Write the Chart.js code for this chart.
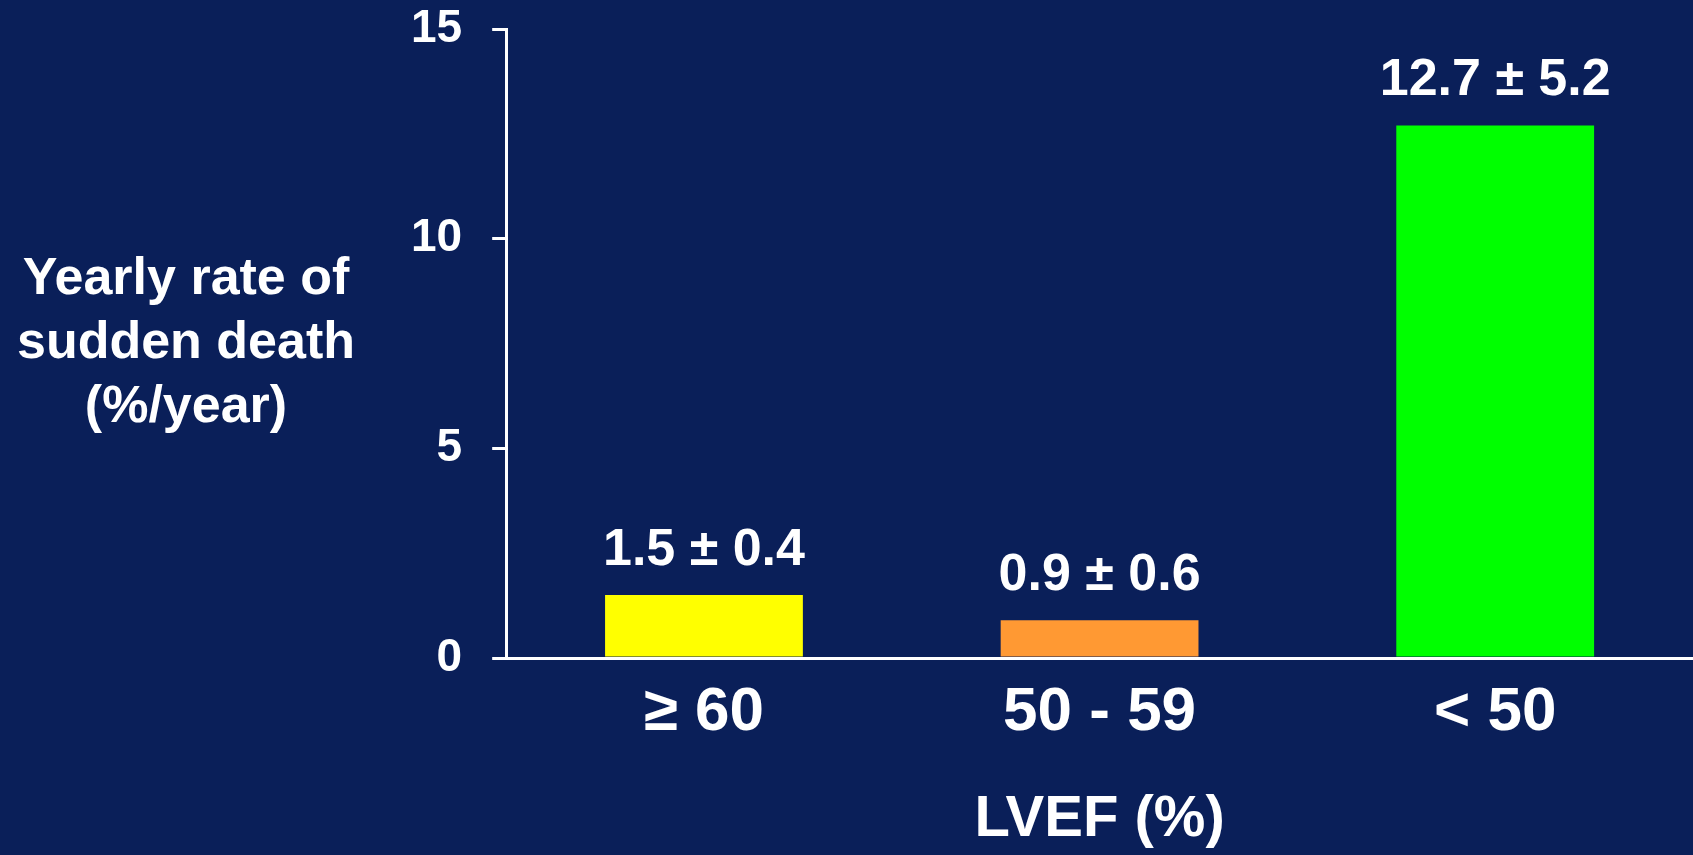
<!DOCTYPE html>
<html>
<head>
<meta charset="utf-8">
<script src="https://cdn.jsdelivr.net/npm/chart.js@4/dist/chart.umd.min.js"></script>
<style>
  html, body { margin: 0; padding: 0; background: #0A1F59; overflow: hidden; }
  #wrap { width: 1693px; height: 855px; }
</style>
</head>
<body>
<div id="wrap"><canvas id="chart" width="1693" height="855"></canvas></div>
<script>
// LVEF groups and yearly sudden-death rates (mean ± SD)
const categories = ['≥ 60', '50 - 59', '< 50'];
const rates = [1.5, 0.9, 12.7];
const spread = [0.4, 0.6, 5.2];
const barColors = ['#FFFF00', '#FF9933', '#00FF00'];
const yTicks = [0, 5, 10, 15];
const yTitleLines = ['Yearly rate of', 'sudden death', '(%/year)'];
const xTitle = 'LVEF (%)';

const FONT = '"Liberation Sans", Arial, Helvetica, sans-serif';

// value ± spread text over each bar
const barLabels = {
  id: 'barLabels',
  afterDatasetsDraw(chart) {
    const ctx = chart.ctx;
    const meta = chart.getDatasetMeta(0);
    ctx.save();
    ctx.fillStyle = '#FFFFFF';
    ctx.font = 'bold 52px ' + FONT;
    ctx.textAlign = 'center';
    ctx.textBaseline = 'alphabetic';
    meta.data.forEach((bar, i) => {
      ctx.fillText(rates[i] + ' ± ' + spread[i], bar.x, bar.y - 30);
    });
    ctx.restore();
  }
};

// horizontal multi-line title to the left of the value axis
const sideTitle = {
  id: 'sideTitle',
  afterDraw(chart) {
    const ctx = chart.ctx;
    const area = chart.chartArea;
    const mid = (area.top + area.bottom) / 2;
    const step = 64;
    ctx.save();
    ctx.fillStyle = '#FFFFFF';
    ctx.font = 'bold 52px ' + FONT;
    ctx.textAlign = 'center';
    ctx.textBaseline = 'middle';
    yTitleLines.forEach((line, i) => {
      ctx.fillText(line, 186, mid + (i - 1) * step);
    });
    ctx.restore();
  }
};

new Chart(document.getElementById('chart'), {
  type: 'bar',
  data: {
    labels: categories,
    datasets: [{
      data: rates,
      backgroundColor: barColors,
      borderWidth: 0,
      barPercentage: 0.5,
      categoryPercentage: 1.0
    }]
  },
  options: {
    responsive: false,
    devicePixelRatio: 1,
    animation: false,
    layout: { padding: { left: 381, top: 29, right: 0, bottom: 0 } },
    plugins: {
      legend: { display: false },
      tooltip: { enabled: false }
    },
    scales: {
      x: {
        offset: true,
        grid: { display: false, drawTicks: false },
        border: { display: true, color: '#FFFFFF', width: 3 },
        ticks: {
          color: '#FFFFFF',
          padding: 18,
          font: { family: FONT, size: 62, weight: 'bold' }
        },
        title: {
          display: true,
          text: xTitle,
          color: '#FFFFFF',
          font: { family: FONT, size: 58, weight: 'bold' },
          padding: { top: 17, bottom: 0 }
        }
      },
      y: {
        min: 0,
        max: 15,
        afterBuildTicks(scale) {
          scale.ticks = yTicks.map(v => ({ value: v }));
        },
        afterFit(scale) {
          // the top label may sit above the plot area; the layout padding handles it
          scale.paddingTop = 0;
        },
        grid: {
          drawOnChartArea: false,
          drawTicks: true,
          tickLength: 14,
          color: '#FFFFFF',
          lineWidth: 3
        },
        border: { display: true, color: '#FFFFFF', width: 3 },
        ticks: {
          color: '#FFFFFF',
          padding: 30,
          font: { family: FONT, size: 46, weight: 'bold' }
        }
      }
    }
  },
  plugins: [barLabels, sideTitle]
});
</script>
</body>
</html>
